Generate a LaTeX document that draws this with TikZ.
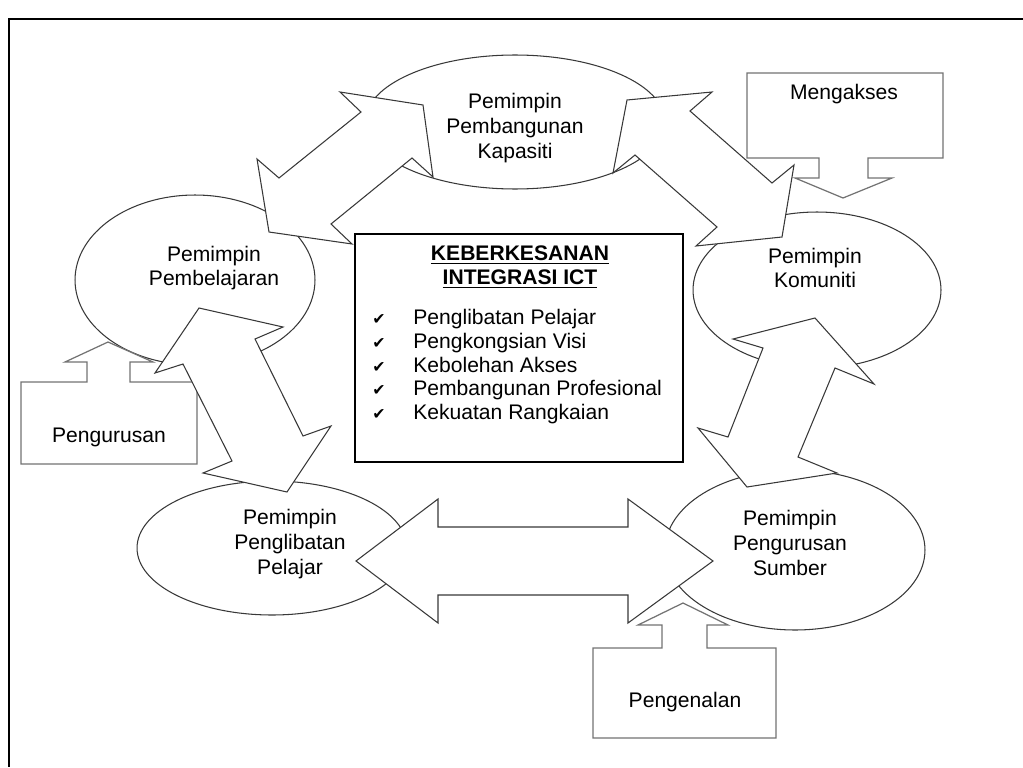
\documentclass[tikz,border=0pt]{standalone}
\usepackage{fontspec}
\setmainfont{Liberation Sans}
\newfontfamily\symfont{DejaVu Sans}
\usepackage{tikz}
\usetikzlibrary{shapes.geometric, positioning}
\definecolor{myline}{rgb}{0.22, 0.22, 0.22}
\definecolor{mygrey}{rgb}{0.45, 0.45, 0.45}
\tikzstyle{callout} = [draw=mygrey, line width=0.7pt, fill=white, line join=miter]
\tikzstyle{dblarrow} = [draw=myline, line width=0.6pt, fill=white, line join=miter]
\newcommand{\tick}{\makebox[0.82cm][l]{\symfont\fontsize{9}{12}\selectfont ✔}}

\begin{document}
\begin{tikzpicture}[
    x=0.02cm, y=-0.02cm,
    leader/.style={
        ellipse,
        draw=myline,
        line width=0.6pt,
        fill=white,
        inner sep=0pt
    },
    lbl/.style={
        align=center,
        inner sep=0pt,
        font=\fontsize{12}{14}\selectfont
    }
]
    \useasboundingbox (0,0) rectangle (1023,767);
    \draw[line width=0.8pt] (1023,19) -- (9,19) -- (9,767);

    % the five leaders
    \node[leader, minimum width=6cm, minimum height=2.68cm] (kapasiti) at (515,122) {};
    \node[leader, minimum width=4.8cm, minimum height=3.4cm] (pembelajaran) at (195,280) {};
    \node[leader, minimum width=4.96cm, minimum height=3.12cm] (komuniti) at (817,290) {};
    \node[leader, minimum width=5.4cm, minimum height=2.68cm] (penglibatan) at (272,548) {};
    \node[leader, minimum width=5.2cm, minimum height=3.2cm] (sumber) at (795,550) {};

    \node[lbl] (kapasiti-txt) at (515,128) {Pemimpin\\Pembangunan\\Kapasiti};
    \node[lbl] (pembelajaran-txt) at (214,268) {Pemimpin\\Pembelajaran};
    \node[lbl] (komuniti-txt) at (815,268) {Pemimpin\\Komuniti};
    \node[lbl] (penglibatan-txt) at (290,544) {Pemimpin\\Penglibatan\\Pelajar};
    \node[lbl] (sumber-txt) at (790,543) {Pemimpin\\Pengurusan\\Sumber};

    % callouts
    \draw[callout] (747,73) -- (943,73) -- (943,158) -- (868,158) -- (868,178) -- (892,178)
        -- (843,198) -- (795,178) -- (819,178) -- (819,158) -- (747,158) -- cycle;
    \node[lbl] (mengakses) at (844,94) {Mengakses};

    \draw[callout] (21,382) -- (87,382) -- (87,362) -- (65,362) -- (108,342) -- (153,362)
        -- (130,362) -- (130,382) -- (197,382) -- (197,464) -- (21,464) -- cycle;
    \node[lbl] (pengurusan) at (109,437) {Pengurusan};

    \draw[callout] (593,648) -- (662,648) -- (662,625) -- (638,625) -- (683,603) -- (728,625)
        -- (707,625) -- (707,648) -- (776,648) -- (776,738) -- (593,738) -- cycle;
    \node[lbl] (pengenalan) at (685,702) {Pengenalan};

    % double arrows between the leaders
    \draw[dblarrow] (340,92) -- (361,112) -- (279,178) -- (257,159) -- (269,232)
        -- (352,244) -- (331,224) -- (412,158) -- (433,177) -- (423,105) -- cycle;
    \draw[dblarrow] (627,100) -- (712,92) -- (690,111) -- (772,183) -- (794,165)
        -- (782,237) -- (696,246) -- (717,227) -- (635,155) -- (613,173) -- cycle;
    \draw[dblarrow] (199,308) -- (283,327) -- (255,339) -- (303,436) -- (331,426)
        -- (287,492) -- (203,473) -- (232,461) -- (183,364) -- (155,373) -- cycle;
    \draw[dblarrow] (815,318) -- (874,384) -- (835,368) -- (798,457) -- (837,473)
        -- (747,487) -- (698,428) -- (728,437) -- (763,348) -- (733,339) -- cycle;
    \draw[dblarrow] (356,561) -- (438,499) -- (438,527) -- (628,527) -- (628,499)
        -- (713,561) -- (628,623) -- (628,595) -- (438,595) -- (438,623) -- cycle;

    % centre box
    \node[draw, line width=0.9pt, fill=white, minimum width=6.56cm, minimum height=4.56cm,
        inner sep=0pt] (ict) at (519,348) {};
    \node[lbl, font=\fontsize{12}{13.5}\selectfont\bfseries] (judul) at (520,267)
        {\underline{KEBERKESANAN}\\\underline{INTEGRASI ICT}};
    \node[lbl, align=left, anchor=north west, font=\fontsize{12}{13.5}\selectfont]
        (senarai) at (372,309)
        {\tick Penglibatan Pelajar\\
         \tick Pengkongsian Visi\\
         \tick Kebolehan Akses\\
         \tick Pembangunan Profesional\\
         \tick Kekuatan Rangkaian};
\end{tikzpicture}
\end{document}
